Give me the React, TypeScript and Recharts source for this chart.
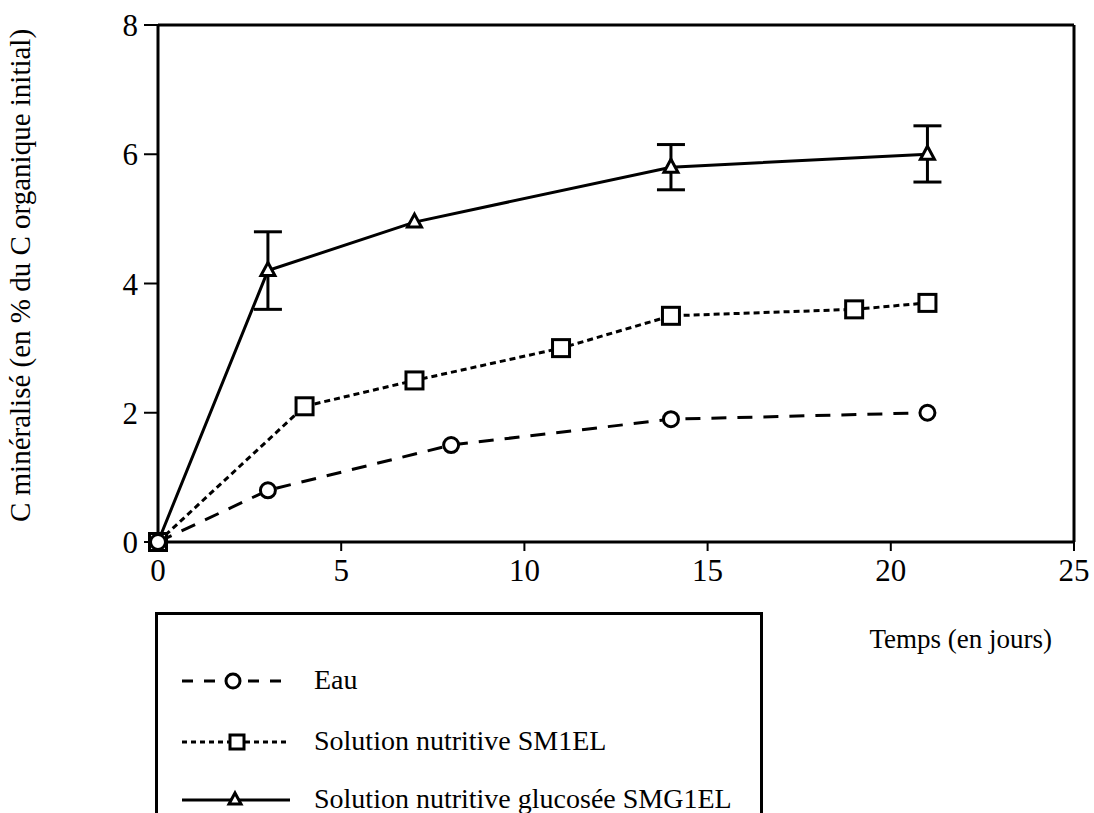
import React from 'react';
import { LineChart, Line, XAxis, YAxis, ErrorBar, ReferenceLine, Legend } from 'recharts';

// days / % of initial organic C mineralised
const eauDays = [0, 3, 8, 14, 21];
const eauValues = [0, 0.8, 1.5, 1.9, 2.0];

const sm1Days = [0, 4, 7, 11, 14, 19, 21];
const sm1Values = [0, 2.1, 2.5, 3.0, 3.5, 3.6, 3.7];

const smgDays = [0, 3, 7, 14, 21];
const smgValues = [0, 4.2, 4.95, 5.8, 6.0];
const smgErrLow = [null, 0.6, null, 0.35, 0.43];
const smgErrHigh = [null, 0.6, null, 0.35, 0.44];

const xTicks = [0, 5, 10, 15, 20, 25];
const yTicks = [0, 2, 4, 6, 8];

const seriesNames = ['Eau', 'Solution nutritive SM1EL', 'Solution nutritive glucosée SMG1EL'];

const eauData = eauDays.map((d, i) => ({ day: d, value: eauValues[i] }));
const sm1Data = sm1Days.map((d, i) => ({ day: d, value: sm1Values[i] }));
const smgData = smgDays.map((d, i) => ({
  day: d,
  value: smgValues[i],
  err: smgErrLow[i] == null ? null : [smgErrLow[i], smgErrHigh[i]],
}));

const FONT = '"Liberation Serif", "Times New Roman", serif';

const CircleDot = (p: any) => (
  <circle key={`c-${p.index}`} cx={p.cx} cy={p.cy} r={7.5} fill="#fff" stroke="#000" strokeWidth={3} />
);
const SquareDot = (p: any) => (
  <rect key={`s-${p.index}`} x={p.cx - 8.5} y={p.cy - 8.5} width={17} height={17} fill="#fff" stroke="#000" strokeWidth={3} />
);
const TriangleDot = (p: any) => (
  <path
    key={`t-${p.index}`}
    d={`M${p.cx},${p.cy - 8} L${p.cx + 7},${p.cy + 5} L${p.cx - 7},${p.cy + 5} Z`}
    fill="#fff"
    stroke="#000"
    strokeWidth={3}
    strokeLinejoin="miter"
  />
);

function LegendSample({ kind }: { kind: number }) {
  return (
    <svg width={120} height={24} style={{ position: 'absolute', left: 20, top: -12 }}>
      {kind === 0 && (
        <g>
          <line x1={4} y1={12} x2={110} y2={12} stroke="#000" strokeWidth={3} strokeDasharray="11 11" />
          <circle cx={55} cy={12} r={7} fill="#fff" stroke="#000" strokeWidth={3} />
        </g>
      )}
      {kind === 1 && (
        <g>
          <line x1={4} y1={12} x2={112} y2={12} stroke="#000" strokeWidth={3} strokeDasharray="5 4" />
          <rect x={52} y={5} width={14} height={14} fill="#fff" stroke="#000" strokeWidth={3} />
        </g>
      )}
      {kind === 2 && (
        <g>
          <line x1={4} y1={12} x2={112} y2={12} stroke="#000" strokeWidth={3} />
          <path d="M57,5 L63,16 L51,16 Z" fill="#fff" stroke="#000" strokeWidth={3} />
        </g>
      )}
    </svg>
  );
}

function LegendBox() {
  const rows = [66, 127, 185];
  return (
    <div
      style={{
        position: 'relative',
        width: 608,
        height: 205,
        borderTop: '3px solid #000',
        borderLeft: '3px solid #000',
        borderRight: '3px solid #000',
        boxSizing: 'border-box',
        fontFamily: FONT,
        fontSize: 28,
        color: '#000',
      }}
    >
      {seriesNames.map((name, i) => (
        <div key={name} style={{ position: 'absolute', left: 0, top: rows[i], width: '100%' }}>
          <LegendSample kind={i} />
          <span style={{ position: 'absolute', left: 156, top: -17, lineHeight: '32px', whiteSpace: 'nowrap' }}>
            {name}
          </span>
        </div>
      ))}
    </div>
  );
}

export default function App() {
  return (
    <div style={{ position: 'absolute', left: 0, top: 0, width: 1094, height: 813, background: '#fff' }}>
      <LineChart width={1094} height={813} margin={{ top: 25, right: 20, left: 28, bottom: 221 }}>
        <XAxis
          type="number"
          dataKey="day"
          domain={[0, 25]}
          ticks={xTicks}
          allowDuplicatedCategory={false}
          height={50}
          axisLine={{ stroke: '#000', strokeWidth: 3 }}
          tickLine={{ stroke: '#000', strokeWidth: 2 }}
          tickSize={9}
          tickMargin={8}
          tick={{ fill: '#000', fontSize: 31, fontFamily: FONT }}
          label={(props: any) => {
            const vb = props.viewBox || { x: 130, y: 542, width: 914, height: 50 };
            return (
              <text
                x={vb.x + vb.width - 22}
                y={vb.y + 106}
                textAnchor="end"
                fontFamily={FONT}
                fontSize={27}
                fill="#000"
              >
                Temps (en jours)
              </text>
            );
          }}
        />
        <YAxis
          type="number"
          domain={[0, 8]}
          ticks={yTicks}
          width={130}
          axisLine={{ stroke: '#000', strokeWidth: 3 }}
          tickLine={{ stroke: '#000', strokeWidth: 2 }}
          tickSize={14}
          tickMargin={6}
          tick={{ fill: '#000', fontSize: 31, fontFamily: FONT }}
          label={{
            value: 'C minéralisé (en % du C organique initial)',
            angle: -90,
            position: 'insideLeft',
            offset: -8,
            dy: -8,
            style: { textAnchor: 'middle', fontFamily: FONT, fontSize: 29, fill: '#000' },
          }}
        />
        <ReferenceLine y={8} stroke="#000" strokeWidth={3} />
        <ReferenceLine x={25} stroke="#000" strokeWidth={3} />
        <Line
          data={smgData}
          dataKey="value"
          name={seriesNames[2]}
          stroke="#000"
          strokeWidth={3}
          dot={TriangleDot}
          activeDot={false}
          isAnimationActive={false}
        >
          <ErrorBar dataKey="err" direction="y" width={14} stroke="#000" strokeWidth={3} isAnimationActive={false} />
        </Line>
        <Line
          data={sm1Data}
          dataKey="value"
          name={seriesNames[1]}
          stroke="#000"
          strokeWidth={3}
          strokeDasharray="6 4"
          dot={SquareDot}
          activeDot={false}
          isAnimationActive={false}
        />
        <Line
          data={eauData}
          dataKey="value"
          name={seriesNames[0]}
          stroke="#000"
          strokeWidth={3}
          strokeDasharray="15 11"
          dot={CircleDot}
          activeDot={false}
          isAnimationActive={false}
        />
        <Legend
          layout="horizontal"
          verticalAlign="middle"
          align="center"
          content={() => <LegendBox />}
          wrapperStyle={{ position: 'absolute', left: 155, top: 612, width: 608, height: 205 }}
        />
      </LineChart>
    </div>
  );
}
